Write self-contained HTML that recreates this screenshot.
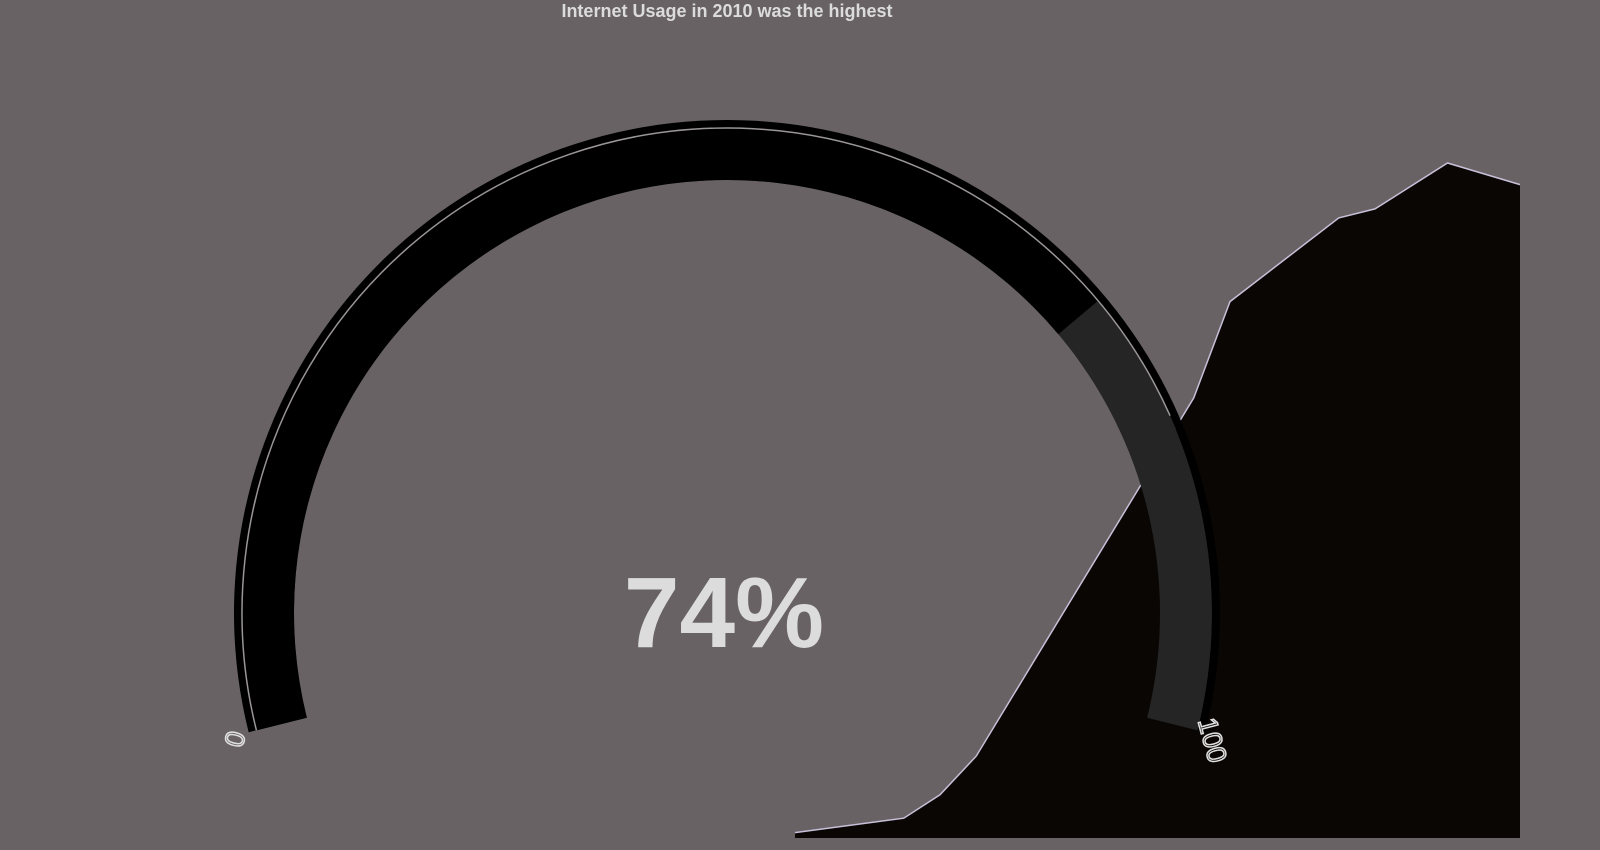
<!DOCTYPE html>
<html><head><meta charset="utf-8"><style>
html,body{margin:0;padding:0;background:#686264;}
svg{display:block;}
</style></head><body>
<svg id="chart" width="1600" height="850" viewBox="0 0 1600 850">
<rect x="0" y="0" width="1600" height="850" fill="#686264"/>
<text x="727" y="17" text-anchor="middle" font-family="Liberation Sans, sans-serif" font-weight="bold" font-size="18" fill="#dcdcdc">Internet Usage in 2010 was the highest</text>
<g id="area-layer"></g>
<g id="gauge-layer"></g>
</svg>
<script>
// Area series data
const years = [1990, 1993, 1994, 1995, 2001, 2002, 2005, 2006, 2008, 2010];
const usage = [0.6, 2.2, 4.8, 9.1, 48.9, 59.6, 68.9, 69.9, 75.0, 72.6];
// Gauge data
const gaugeMin = 0;
const gaugeMax = 100;
const gaugeValue = 74;

const NS = 'http://www.w3.org/2000/svg';
function xScale(y){ return 795 + (y - 1990) * 36.25; }
function yScale(v){ return 838 - v * 9; }
const base = yScale(0);

const areaLayer = document.getElementById('area-layer');
let d = 'M' + xScale(years[0]) + ',' + base;
let ld = '';
years.forEach((yr, i) => {
  d += ' L' + xScale(yr) + ',' + yScale(usage[i]);
  ld += (i ? ' L' : 'M') + xScale(yr) + ',' + yScale(usage[i]);
});
d += ' L' + xScale(years[years.length - 1]) + ',' + base + ' Z';
const area = document.createElementNS(NS, 'path');
area.setAttribute('d', d);
area.setAttribute('fill', '#0a0604');


areaLayer.appendChild(area);
const line = document.createElementNS(NS, 'path');
line.setAttribute('d', ld);
line.setAttribute('fill', 'none');
line.setAttribute('stroke', '#c8c0d8');
line.setAttribute('stroke-width', '1.5');


areaLayer.appendChild(line);

// Gauge
const cx = 727, cy = 613;
const startA = -104, endA = 104;
function angOf(v){ return startA + (v - gaugeMin) / (gaugeMax - gaugeMin) * (endA - startA); }
function pt(r, a){ const t = a * Math.PI / 180; return [cx + r * Math.sin(t), cy - r * Math.cos(t)]; }
function band(r1, r2, a1, a2){
  const p1 = pt(r2, a1), p2 = pt(r2, a2), p3 = pt(r1, a2), p4 = pt(r1, a1);
  const lg = (a2 - a1) > 180 ? 1 : 0;
  return 'M' + p1 + ' A' + r2 + ',' + r2 + ' 0 ' + lg + ' 1 ' + p2 + ' L' + p3 + ' A' + r1 + ',' + r1 + ' 0 ' + lg + ' 0 ' + p4 + ' Z';
}
const g = document.getElementById('gauge-layer');
function addPath(dd, fill, name){
  const p = document.createElementNS(NS, 'path');
  p.setAttribute('d', dd);
  p.setAttribute('fill', fill);
  
  
  g.appendChild(p);
  return p;
}
addPath(band(433, 485, angOf(gaugeMin), angOf(gaugeMax)), '#252525', 'gauge-track');
addPath(band(485, 493, angOf(gaugeMin), angOf(gaugeMax)), '#000000', 'gauge-outer-band');
addPath(band(433, 485, angOf(gaugeMin), angOf(gaugeValue)), '#000000', 'gauge-value-bar');
const l1 = pt(485, startA), l2 = pt(485, 66);
const rim = document.createElementNS(NS, 'path');
rim.setAttribute('d', 'M' + l1 + ' A485,485 0 0 1 ' + l2);
rim.setAttribute('fill', 'none');
rim.setAttribute('stroke', '#9a9698');
rim.setAttribute('stroke-width', '1.5');


g.appendChild(rim);

function label(txt, v, name, rot, r, da){
  const p = pt(r, angOf(v) + da);
  const t = document.createElementNS(NS, 'text');
  t.setAttribute('x', p[0]);
  t.setAttribute('y', p[1]);
  t.setAttribute('text-anchor', 'middle');
  t.setAttribute('dominant-baseline', 'middle');
  t.setAttribute('font-family', 'Liberation Sans, sans-serif');
  t.setAttribute('font-size', '27');
  t.setAttribute('fill', 'none');
  t.setAttribute('stroke', '#e0e0e0');
  t.setAttribute('stroke-width', '1.5');
  t.setAttribute('transform', 'rotate(' + rot + ' ' + p[0] + ' ' + p[1] + ')');
  t.textContent = txt;
  
  
  g.appendChild(t);
}
label(String(gaugeMin), gaugeMin, 'gauge-min-label', -75, 506, -0.5);
label(String(gaugeMax), gaugeMax, 'gauge-max-label', 75, 500, 0.8);

const vt = document.createElementNS(NS, 'text');
vt.setAttribute('x', 724);
vt.setAttribute('y', 647);
vt.setAttribute('text-anchor', 'middle');
vt.setAttribute('font-family', 'Liberation Sans, sans-serif');
vt.setAttribute('font-weight', 'bold');
vt.setAttribute('font-size', '100');
vt.setAttribute('fill', '#dcdcdc');
vt.textContent = gaugeValue + '%';


g.appendChild(vt);
</script>
</body></html>
